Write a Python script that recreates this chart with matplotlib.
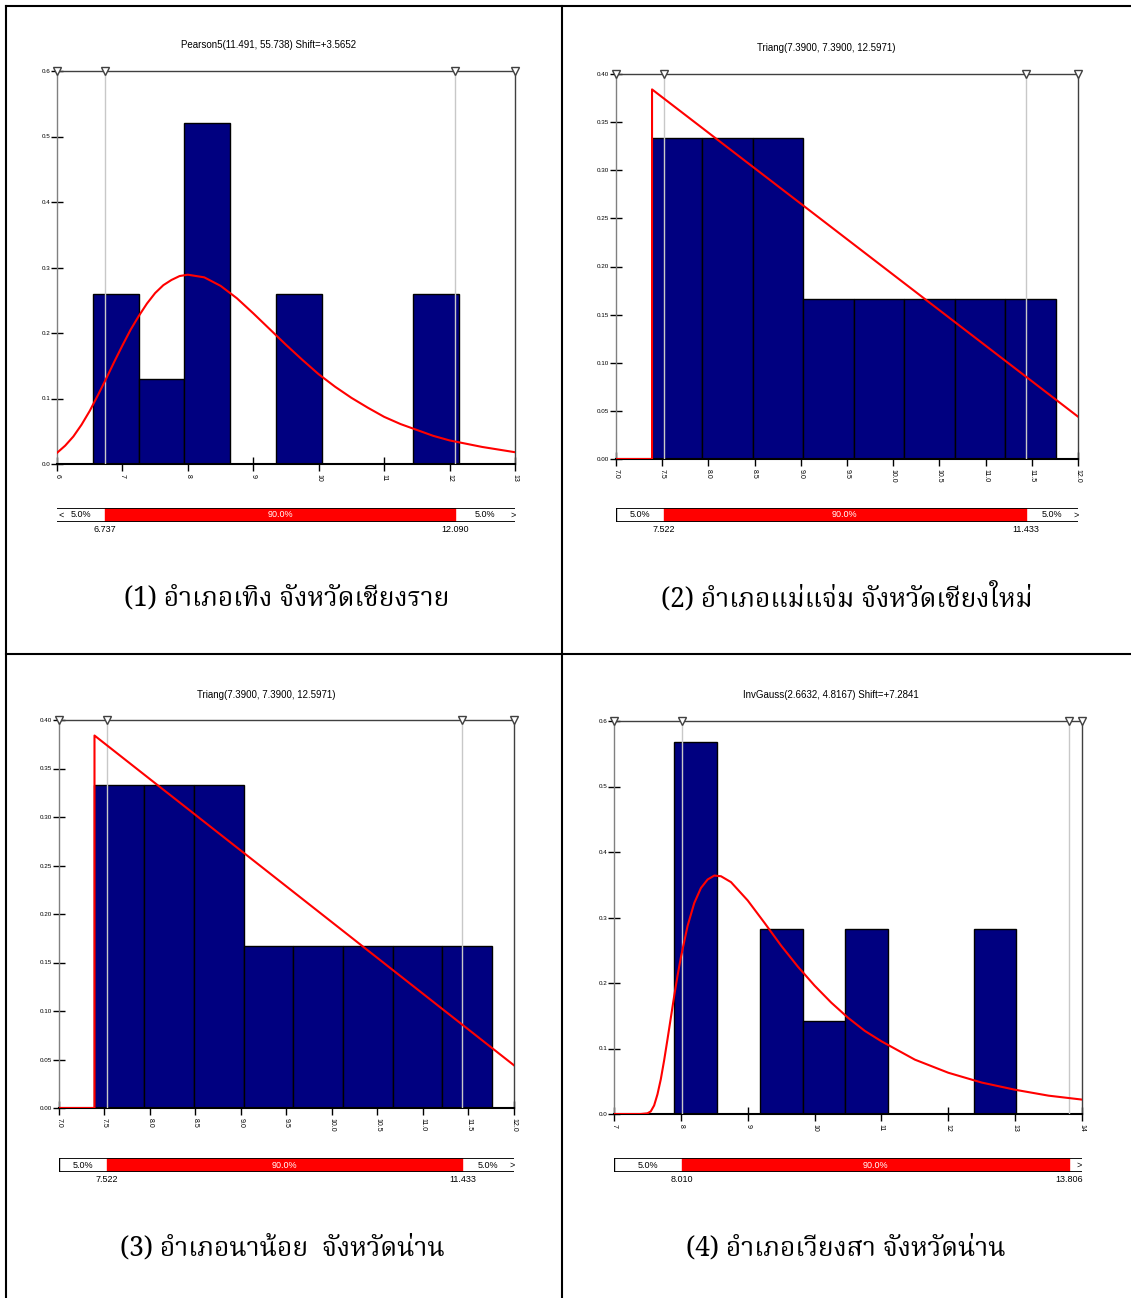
import matplotlib
matplotlib.use("Agg")
import matplotlib.pyplot as plt
from matplotlib import font_manager
from matplotlib.lines import Line2D
from matplotlib.ft2font import FT2Font
import numpy as np

# ---------------- data ----------------
# Panel 1: Pearson5 fit (อำเภอเทิง)
p1_title = "Pearson5(11.491, 55.738) Shift=+3.5652"
p1_bin_edges = [6.546, 7.246, 7.946, 8.646, 9.346, 10.046, 10.746, 11.446, 12.146]
p1_heights = [0.26, 0.13, 0.52, 0.0, 0.26, 0.0, 0.0, 0.26]
p1_curve_x = [6.0, 6.125, 6.25, 6.375, 6.5, 6.625, 6.75, 6.875, 7.0, 7.125, 7.25, 7.375, 7.5, 7.625, 7.75,
              7.875, 8.0, 8.25, 8.5, 8.75, 9.0, 9.25, 9.5, 9.75, 10.0, 10.25, 10.5, 10.75, 11.0, 11.25,
              11.5, 11.75, 12.0, 12.25, 12.5, 12.75, 13.0]
p1_curve_y = [0.017, 0.028, 0.042, 0.060, 0.081, 0.105, 0.130, 0.156, 0.181, 0.205, 0.226, 0.245, 0.261,
              0.273, 0.281, 0.287, 0.289, 0.285, 0.272, 0.253, 0.230, 0.206, 0.182, 0.159, 0.137, 0.118,
              0.101, 0.086, 0.072, 0.061, 0.052, 0.043, 0.036, 0.031, 0.026, 0.022, 0.018]
p1_xticks = [6, 7, 8, 9, 10, 11, 12, 13]
p1_xticklabels = ["6", "7", "8", "9", "10", "11", "12", "13"]
p1_yticks = [0.0, 0.1, 0.2, 0.3, 0.4, 0.5, 0.6]
p1_yticklabels = ["0.0", "0.1", "0.2", "0.3", "0.4", "0.5", "0.6"]
p1_pct = [6.737, 12.090]
p1_pct_labels = ["6.737", "12.090"]
p1_caption = "(1) อำเภอเทิง จังหวัดเชียงราย"

# Panels 2 and 3: Triang fit (อำเภอแม่แจ่ม, อำเภอนาน้อย)
tri_title = "Triang(7.3900, 7.3900, 12.5971)"
tri_bin_edges = [7.39, 7.936, 8.482, 9.028, 9.574, 10.120, 10.666, 11.212, 11.758]
tri_heights = [0.333, 0.333, 0.333, 0.1665, 0.1665, 0.1665, 0.1665, 0.1665]
tri_curve_x = [7.0, 7.39, 7.39, 12.0]
tri_curve_y = [0.0, 0.0, 0.384, 0.044]
tri_xticks = [7.0, 7.5, 8.0, 8.5, 9.0, 9.5, 10.0, 10.5, 11.0, 11.5, 12.0]
tri_xticklabels = ["7.0", "7.5", "8.0", "8.5", "9.0", "9.5", "10.0", "10.5", "11.0", "11.5", "12.0"]
tri_yticks = [0.00, 0.05, 0.10, 0.15, 0.20, 0.25, 0.30, 0.35, 0.40]
tri_yticklabels = ["0.00", "0.05", "0.10", "0.15", "0.20", "0.25", "0.30", "0.35", "0.40"]
tri_pct = [7.522, 11.433]
tri_pct_labels = ["7.522", "11.433"]
p2_caption = "(2) อำเภอแม่แจ่ม จังหวัดเชียงใหม่"
p3_caption = "(3) อำเภอนาน้อย  จังหวัดน่าน"

# Panel 4: InvGauss fit (อำเภอเวียงสา)
p4_title = "InvGauss(2.6632, 4.8167) Shift=+7.2841"
p4_bin_edges = [7.90, 8.54, 9.18, 9.82, 10.46, 11.10, 11.74, 12.38, 13.02]
p4_heights = [0.568, 0.0, 0.283, 0.142, 0.283, 0.0, 0.0, 0.283]
p4_curve_x = [7.0, 7.4, 7.5, 7.55, 7.6, 7.65, 7.7, 7.75, 7.8, 7.85, 7.9, 7.95, 8.0, 8.1, 8.2, 8.3, 8.4,
              8.5, 8.6, 8.75, 9.0, 9.25, 9.5, 9.75, 10.0, 10.25, 10.5, 10.75, 11.0, 11.5, 12.0, 12.5,
              13.0, 13.5, 14.0]
p4_curve_y = [0.0, 0.0, 0.001, 0.004, 0.013, 0.030, 0.053, 0.082, 0.114, 0.147, 0.180, 0.211, 0.239,
              0.287, 0.322, 0.345, 0.358, 0.364, 0.363, 0.354, 0.326, 0.292, 0.257, 0.225, 0.196, 0.170,
              0.147, 0.127, 0.111, 0.083, 0.063, 0.048, 0.037, 0.028, 0.022]
p4_xticks = [7, 8, 9, 10, 11, 12, 13, 14]
p4_xticklabels = ["7", "8", "9", "10", "11", "12", "13", "14"]
p4_yticks = [0.0, 0.1, 0.2, 0.3, 0.4, 0.5, 0.6]
p4_yticklabels = ["0.0", "0.1", "0.2", "0.3", "0.4", "0.5", "0.6"]
p4_pct = [8.010, 13.806]
p4_pct_labels = ["8.010", "13.806"]
p4_caption = "(4) อำเภอเวียงสา จังหวัดน่าน"

pct_texts = ["5.0%", "90.0%", "5.0%"]

# ---------------- fonts ----------------
def find_font_with(char, prefer=()):
    cands = []
    for f in font_manager.fontManager.ttflist:
        try:
            ft = FT2Font(f.fname)
            if ord(char) in ft.get_charmap():
                cands.append(f)
        except Exception:
            pass
    for p in prefer:
        for f in cands:
            if p.lower() in f.name.lower():
                return f.name
    for f in cands:
        if f.style == "normal" and f.weight in (400, "normal", "regular"):
            return f.name
    return cands[0].name if cands else None

thai_font = find_font_with("อ", prefer=("Serif Thai", "Loma", "Garuda", "Sans Thai", "Tlwg", "Norasi", "Kinnari"))
thai_family = [thai_font, "DejaVu Sans"] if thai_font else ["DejaVu Sans"]

names = {f.name for f in font_manager.fontManager.ttflist}
small_family = ["Liberation Sans Narrow"] if "Liberation Sans Narrow" in names else ["Liberation Sans", "DejaVu Sans"]
plt.rcParams["font.family"] = small_family

W, H = 1131, 1298
fig = plt.figure(figsize=(W / 100, H / 100), dpi=100)
fig.patch.set_facecolor("white")

def fx(px):
    return px / W

def fy(py):
    return 1 - py / H

NAVY = "#000080"
RED = "#ff0000"

def draw_panel(box, xlim, ylim, edges, heights, cx, cy, xticks, xtl, yticks, ytl,
               pct, pct_labels, title, title_xy, bar_box, caption, cap_xy, left_arrow):
    x0, y0, x1, y1 = box
    ax = fig.add_axes([fx(x0), fy(y1), fx(x1 - x0), (y1 - y0) / H])
    ax.set_xlim(*xlim)
    ax.set_ylim(*ylim)
    edges = np.asarray(edges)
    heights = np.asarray(heights)
    widths = np.diff(edges)
    keep = heights > 0
    ax.bar(edges[:-1][keep], heights[keep], width=widths[keep], align="edge",
           color=NAVY, edgecolor="black", linewidth=1.0, zorder=2)
    for p in pct:
        ax.axvline(p, color="#c8c8c8", lw=1.0, zorder=3)
    ax.plot(cx, cy, color=RED, lw=1.5, zorder=4, clip_on=True)
    ax.plot([xlim[0], pct[0], pct[1], xlim[1]], [ylim[1]] * 4, ls="none", marker="v",
            ms=6, mfc="white", mec="#404040", mew=1.0, clip_on=False, zorder=6)
    ax.set_xticks(xticks)
    ax.set_xticklabels(xtl, rotation=-90, fontsize=5)
    ax.set_yticks(yticks)
    ax.set_yticklabels(ytl, fontsize=4.5)
    ax.tick_params(axis="x", direction="inout", length=10, width=1, pad=2, colors="black")
    ax.tick_params(axis="y", direction="inout", length=8, width=1, pad=1, colors="black")
    ax.spines["left"].set_color("#808080")
    ax.spines["top"].set_color("#404040")
    ax.spines["right"].set_color("#404040")
    ax.spines["bottom"].set_color("black")
    ax.spines["bottom"].set_linewidth(1.5)
    for s in ("left", "top", "right"):
        ax.spines[s].set_linewidth(1.0)

    fig.text(fx(title_xy[0]), fy(title_xy[1]), title, ha="center", va="center", fontsize=7)

    # percentile bar
    by0, by1 = bar_box
    bx = fig.add_axes([fx(x0), fy(by1), fx(x1 - x0), (by1 - by0) / H])
    bx.set_xlim(*xlim)
    bx.set_ylim(0, 1)
    bx.axis("off")
    bx.axvspan(pct[0], pct[1], color=RED, zorder=1)
    bx.axhline(1, color="black", lw=1.3, zorder=2)
    bx.axhline(0, color="black", lw=1.3, zorder=2)
    if not left_arrow:
        bx.axvline(xlim[0], color="black", lw=1.0, zorder=2)
    span = xlim[1] - xlim[0]
    bx.text((xlim[0] + pct[0]) / 2, 0.5, pct_texts[0], ha="center", va="center", fontsize=6.5)
    bx.text((pct[0] + pct[1]) / 2, 0.5, pct_texts[1], ha="center", va="center", fontsize=6.5, color="white")
    if (xlim[1] - pct[1]) > 0.08 * span:
        bx.text((pct[1] + xlim[1]) / 2, 0.5, pct_texts[2], ha="center", va="center", fontsize=6.5)
    if left_arrow:
        bx.text(xlim[0] + 0.01 * span, 0.5, "<", ha="center", va="center", fontsize=6.5)
    bx.text(xlim[1] - 0.005 * span, 0.5, ">", ha="center", va="center", fontsize=6.5)
    for p, lab in zip(pct, pct_labels):
        bx.text(p, -0.25, lab, ha="center", va="top", fontsize=6.5)

    fig.text(fx(cap_xy[0]), fy(cap_xy[1]), caption, ha="center", va="center",
             fontsize=19, family=thai_family)

draw_panel((57, 71, 515, 464), (6, 13), (0, 0.6), p1_bin_edges, p1_heights, p1_curve_x, p1_curve_y,
           p1_xticks, p1_xticklabels, p1_yticks, p1_yticklabels, p1_pct, p1_pct_labels,
           p1_title, (269, 45), (508, 522), p1_caption, (287, 598), True)
draw_panel((616, 74, 1078, 459), (7, 12), (0, 0.4), tri_bin_edges, tri_heights, tri_curve_x, tri_curve_y,
           tri_xticks, tri_xticklabels, tri_yticks, tri_yticklabels, tri_pct, tri_pct_labels,
           tri_title, (826, 48), (508, 522), p2_caption, (847, 598), False)
draw_panel((59, 720, 514, 1108), (7, 12), (0, 0.4), tri_bin_edges, tri_heights, tri_curve_x, tri_curve_y,
           tri_xticks, tri_xticklabels, tri_yticks, tri_yticklabels, tri_pct, tri_pct_labels,
           tri_title, (266, 695), (1158, 1172), p3_caption, (282, 1248), False)
draw_panel((614, 721, 1082, 1114), (7, 14), (0, 0.6), p4_bin_edges, p4_heights, p4_curve_x, p4_curve_y,
           p4_xticks, p4_xticklabels, p4_yticks, p4_yticklabels, p4_pct, p4_pct_labels,
           p4_title, (831, 695), (1158, 1172), p4_caption, (846, 1248), False)

# frame lines
lw = 1.5
fig.add_artist(Line2D([fx(6), 1.0], [fy(6), fy(6)], color="black", lw=lw))
fig.add_artist(Line2D([fx(6), 1.0], [fy(654), fy(654)], color="black", lw=lw))
fig.add_artist(Line2D([fx(6), fx(6)], [0, fy(6)], color="black", lw=lw))
fig.add_artist(Line2D([fx(562), fx(562)], [0, fy(6)], color="black", lw=lw))

fig.savefig("out.png", dpi=100, facecolor="white")
